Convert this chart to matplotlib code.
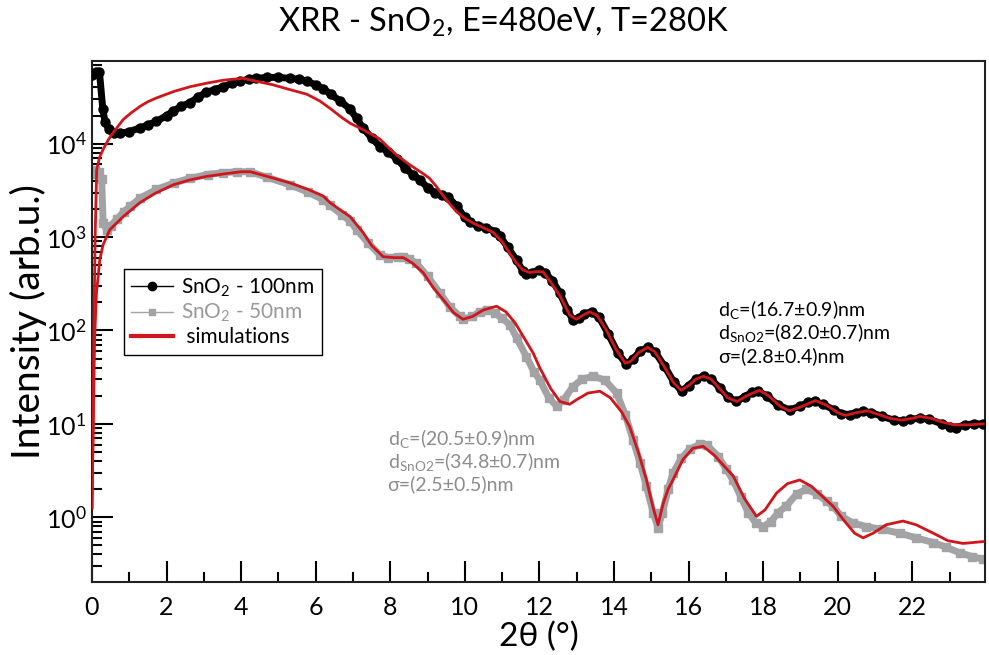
import matplotlib
matplotlib.use("Agg")
import matplotlib.pyplot as plt
import numpy as np
from matplotlib.lines import Line2D
from matplotlib.ticker import MultipleLocator, LogLocator, NullFormatter

plt.rcParams['font.family'] = ['Lato', 'DejaVu Sans']
plt.rcParams['mathtext.fontset'] = 'custom'
plt.rcParams['mathtext.rm'] = 'Lato'
plt.rcParams['mathtext.it'] = 'Lato:italic'
plt.rcParams['mathtext.bf'] = 'Lato:bold'

RED = '#d0151b'
GRAY = '#a3a3a6'

# measured reflectivity, SnO2 100 nm (2theta in deg, log10 intensity)
tt_100 = [0.00, 0.10, 0.20, 0.29, 0.35, 0.45, 0.60, 0.75, 1.00, 1.29, 1.50, 1.73, 2.00,
          2.18, 2.40, 2.63, 2.85, 3.07, 3.30, 3.52, 3.75, 3.97, 4.20, 4.41, 4.70, 5.00,
          5.31, 5.55, 5.76, 6.00, 6.20, 6.40, 6.65, 6.92, 7.10, 7.27, 7.50, 7.72, 7.95,
          8.17, 8.40, 8.60, 8.80, 9.00, 9.20, 9.40, 9.55, 9.78, 10.00, 10.13, 10.35,
          10.58, 10.80, 10.94, 11.15, 11.39, 11.55, 11.65, 11.80, 12.00, 12.15, 12.35,
          12.55, 12.75, 12.90, 13.05, 13.20, 13.40, 13.60, 13.85, 14.10, 14.33, 14.50,
          14.70, 14.91, 15.10, 15.35, 15.60, 15.81, 16.00, 16.20, 16.40, 16.60, 16.85,
          17.05, 17.28, 17.50, 17.70, 17.86, 18.10, 18.40, 18.71, 19.00, 19.20, 19.38,
          19.60, 19.90, 20.10, 20.32, 20.50, 20.67, 20.90, 21.20, 21.50, 21.74, 21.95,
          22.20, 22.45, 22.80, 23.00, 23.18, 23.40, 23.65, 23.90]
logi_100 = [4.74, 4.77, 4.77, 4.37, 4.23, 4.16, 4.12, 4.11, 4.13, 4.17, 4.20, 4.24, 4.30,
            4.35, 4.40, 4.44, 4.50, 4.55, 4.58, 4.61, 4.645, 4.67, 4.69, 4.70, 4.71, 4.71,
            4.70, 4.69, 4.67, 4.63, 4.59, 4.53, 4.46, 4.37, 4.27, 4.17, 4.06, 3.97, 3.91,
            3.84, 3.74, 3.67, 3.61, 3.53, 3.47, 3.45, 3.43, 3.33, 3.21, 3.16, 3.12,
            3.10, 3.06, 3.01, 2.89, 2.75, 2.64, 2.61, 2.62, 2.65, 2.62, 2.53,
            2.40, 2.22, 2.11, 2.13, 2.18, 2.20, 2.14, 1.96, 1.76, 1.64, 1.69,
            1.78, 1.82, 1.77, 1.62, 1.45, 1.35, 1.41, 1.48, 1.51, 1.48, 1.38,
            1.29, 1.24, 1.29, 1.34, 1.35, 1.30, 1.20, 1.15, 1.19, 1.23, 1.24,
            1.21, 1.15, 1.11, 1.10, 1.12, 1.135, 1.12, 1.08, 1.04, 1.03, 1.05,
            1.06, 1.05, 1.00, 0.97, 0.96, 0.99, 1.00, 1.00]

# simulation for the 100 nm film
tt_sim_100 = [0.00, 0.03, 0.06, 0.09, 0.126, 0.20, 0.30, 0.45, 0.57, 0.84, 1.05, 1.29,
              1.50, 1.73, 2.20, 2.63, 3.10, 3.52, 4.05, 4.40, 4.86, 5.30, 5.76, 6.10,
              6.38, 6.70, 6.92, 7.27, 7.50, 7.72, 7.95, 8.17, 8.50, 8.88, 9.05, 9.24,
              9.50, 9.78, 10.00, 10.22, 10.50, 10.76, 11.00, 11.20, 11.39, 11.55, 11.74,
              11.90, 12.09, 12.30, 12.55, 12.82, 12.99, 13.15, 13.35, 13.55, 13.80, 14.05,
              14.30, 14.45, 14.65, 14.90, 15.10, 15.35, 15.60, 15.80, 16.00, 16.20, 16.40,
              16.60, 16.85, 17.05, 17.30, 17.55, 17.90, 18.15, 18.45, 18.70, 19.00, 19.40,
              19.70, 20.00, 20.20, 20.50, 20.80, 21.10, 21.40, 21.70, 22.00, 22.20, 22.50,
              22.80, 23.10, 23.50, 23.90]
logi_sim_100 = [0.10, 1.0, 2.3, 3.1, 3.72, 3.85, 3.94, 4.05, 4.12, 4.26, 4.33, 4.40,
                4.45, 4.49, 4.56, 4.61, 4.65, 4.68, 4.70, 4.67, 4.63, 4.58, 4.53, 4.46,
                4.38, 4.28, 4.22, 4.15, 4.10, 4.05, 3.96, 3.88, 3.78, 3.68, 3.63, 3.54,
                3.40, 3.27, 3.20, 3.15, 3.10, 3.05, 2.95, 2.83, 2.72, 2.65, 2.62,
                2.63, 2.63, 2.52, 2.37, 2.16, 2.12, 2.16, 2.20, 2.16, 2.00, 1.80,
                1.65, 1.67, 1.76, 1.82, 1.77, 1.61, 1.44, 1.36, 1.41, 1.48, 1.51,
                1.48, 1.37, 1.28, 1.24, 1.30, 1.36, 1.30, 1.19, 1.14, 1.18, 1.25,
                1.20, 1.12, 1.09, 1.12, 1.14, 1.10, 1.06, 1.04, 1.06, 1.08, 1.06,
                1.02, 0.99, 0.99, 1.00]

# measured reflectivity, SnO2 50 nm
tt_50 = [0.00, 0.08, 0.18, 0.26, 0.30, 0.39, 0.50, 0.66, 0.85, 1.02, 1.30, 1.73, 2.20,
         2.63, 3.10, 3.52, 3.90, 4.24, 4.70, 5.31, 5.80, 6.20, 6.38, 6.70, 6.92, 7.10,
         7.40, 7.72, 7.95, 8.20, 8.35, 8.50, 8.70, 9.00, 9.33, 9.60, 9.87, 9.95, 10.20,
         10.40, 10.60, 10.80, 11.00, 11.21, 11.39, 11.65, 11.85, 12.01, 12.25, 12.46,
         12.65, 12.90, 13.15, 13.44, 13.75, 14.07, 14.30, 14.51, 14.70, 14.87, 15.05,
         15.18, 15.30, 15.45, 15.58, 15.80, 16.03, 16.30, 16.50, 16.80, 17.00, 17.19,
         17.40, 17.60, 17.80, 18.00, 18.20, 18.40, 18.62, 18.90, 19.16, 19.45, 19.70,
         19.87, 20.10, 20.40, 20.77, 21.20, 21.66, 22.10, 22.56, 22.90, 23.27, 23.60,
         23.90]
logi_50 = [3.68, 3.72, 3.70, 3.62, 3.15, 3.08, 3.12, 3.19, 3.27, 3.33, 3.42, 3.51, 3.58,
           3.63, 3.67, 3.69, 3.70, 3.70, 3.64, 3.56, 3.48, 3.40, 3.34, 3.24, 3.17, 3.08,
           2.94, 2.81, 2.78, 2.79, 2.79, 2.77, 2.72, 2.58, 2.40, 2.25, 2.15, 2.12, 2.15,
           2.20, 2.22, 2.19, 2.13, 2.06, 1.92, 1.72, 1.56, 1.47, 1.28, 1.19,
           1.26, 1.40, 1.48, 1.51, 1.47, 1.33, 1.10, 0.83, 0.58, 0.33, 0.05,
           -0.11, 0.05, 0.30, 0.47, 0.63, 0.73, 0.78, 0.77, 0.65, 0.52, 0.40,
           0.22, 0.05, -0.06, -0.10, -0.05, 0.05, 0.12, 0.25, 0.30, 0.25, 0.17,
           0.12, 0.01, -0.06, -0.10, -0.13, -0.17, -0.22, -0.27, -0.32, -0.38, -0.42,
           -0.45]

# simulation for the 50 nm film
tt_sim_50 = [0.00, 0.03, 0.07, 0.12, 0.21, 0.30, 0.48, 0.84, 1.29, 1.70, 2.18, 2.60,
             3.07, 3.60, 4.00, 4.24, 4.70, 5.31, 5.80, 6.20, 6.38, 6.70, 6.92, 7.27,
             7.50, 7.81, 8.10, 8.35, 8.60, 8.88, 9.15, 9.42, 9.70, 9.95, 10.20, 10.50,
             10.85, 11.10, 11.35, 11.65, 11.83, 12.01, 12.30, 12.55, 12.81, 13.00, 13.30,
             13.62, 13.90, 14.20, 14.42, 14.65, 14.87, 15.05, 15.18, 15.32, 15.45, 15.58,
             15.85, 16.12, 16.39, 16.70, 16.95, 17.20, 17.50, 17.82, 18.05, 18.36, 18.65,
             18.98, 19.30, 19.60, 19.87, 20.20, 20.45, 20.68, 20.95, 21.30, 21.75, 22.10,
             22.56, 22.95, 23.36, 23.90]
logi_sim_50 = [0.10, 0.9, 1.9, 2.4, 2.76, 2.92, 3.08, 3.22, 3.37, 3.47, 3.56, 3.61,
               3.65, 3.68, 3.70, 3.70, 3.65, 3.58, 3.51, 3.44, 3.37, 3.28, 3.22, 3.05,
               2.91, 2.79, 2.78, 2.78, 2.72, 2.62, 2.46, 2.33, 2.19, 2.12, 2.15, 2.22,
               2.26, 2.20, 2.08, 1.88, 1.76, 1.60, 1.38, 1.24, 1.21, 1.26, 1.33,
               1.35, 1.28, 1.13, 0.97, 0.70, 0.40, 0.10, -0.08, 0.15, 0.30, 0.40,
               0.62, 0.74, 0.76, 0.66, 0.55, 0.44, 0.20, 0.01, 0.08, 0.26, 0.36,
               0.40, 0.33, 0.22, 0.12, -0.05, -0.17, -0.22, -0.17, -0.08, -0.04, -0.08,
               -0.17, -0.25, -0.28, -0.26]

fit_100 = ["d$_\\mathrm{C}$=(16.7±0.9)nm", "d$_\\mathrm{SnO2}$=(82.0±0.7)nm", "σ=(2.8±0.4)nm"]
fit_50 = ["d$_\\mathrm{C}$=(20.5±0.9)nm", "d$_\\mathrm{SnO2}$=(34.8±0.7)nm", "σ=(2.5±0.5)nm"]

fig = plt.figure(figsize=(9.89, 6.55), dpi=100)
ax = fig.add_axes([0.093, 0.1115, 0.903, 0.7955])

ax.plot(tt_50, 10 ** np.array(logi_50), '-', color=GRAY, lw=5,
        marker='s', ms=6, mec=GRAY, mfc=GRAY, zorder=2)
ax.plot(tt_100, 10 ** np.array(logi_100), '-', color='black', lw=5,
        marker='o', ms=6.5, zorder=3)
ax.plot(tt_sim_100, 10 ** np.array(logi_sim_100), '-', color=RED, lw=2, zorder=4)
ax.plot(tt_sim_50, 10 ** np.array(logi_sim_50), '-', color=RED, lw=2, zorder=4)

ax.set_yscale('log')
ax.set_xlim(0, 23.95)
ax.set_ylim(0.203, 7.7e4)

ax.xaxis.set_major_locator(MultipleLocator(2))
ax.xaxis.set_minor_locator(MultipleLocator(1))
ax.yaxis.set_major_locator(LogLocator(base=10, numticks=10))
ax.yaxis.set_minor_locator(LogLocator(base=10, subs=np.arange(2, 10), numticks=10))
ax.yaxis.set_minor_formatter(NullFormatter())
ax.tick_params(which='both', direction='in', top=False, right=False, width=1.5,
               labelsize=18)
ax.tick_params(which='major', length=15)
ax.tick_params(which='minor', length=7)
ax.tick_params(axis='x', pad=10)
ax.tick_params(axis='y', pad=4)
for s in ax.spines.values():
    s.set_linewidth(1.5)
    s.set_color('#222222')

ax.set_xlabel('2θ (°)', fontsize=24, labelpad=2)
ax.set_ylabel('Intensity (arb.u.)', fontsize=28)
ax.yaxis.set_label_coords(-0.05, 0.5)
fig.text(0.509, 0.965, 'XRR - SnO$_\\mathrm{2}$, E=480eV, T=280K', fontsize=23.5,
         ha='center', va='center')

for i, t in enumerate(fit_100):
    ax.text(0.701, 0.523 - i * 0.045, t, transform=ax.transAxes, fontsize=14,
            color='black', va='center', ha='left')
for i, t in enumerate(fit_50):
    ax.text(0.331, 0.275 - i * 0.044, t, transform=ax.transAxes, fontsize=14,
            color='#8c8c8c', va='center', ha='left')

handles = [Line2D([], [], color='black', lw=1, marker='o', ms=6),
           Line2D([], [], color=GRAY, lw=1, marker='s', ms=5),
           Line2D([], [], color=RED, lw=3)]
labels = ['SnO$_\\mathrm{2}$ - 100nm', 'SnO$_\\mathrm{2}$ - 50nm', ' simulations']
leg = ax.legend(handles, labels, loc='upper left', bbox_to_anchor=(0.024, 0.62),
                fontsize=15, frameon=True, fancybox=False, edgecolor='black',
                framealpha=1, handlelength=2.0, handletextpad=0.4, borderpad=0.35,
                labelspacing=0.15)
leg.get_frame().set_linewidth(1.0)
leg.get_texts()[1].set_color('#999999')

fig.savefig('out.png', dpi=100)
